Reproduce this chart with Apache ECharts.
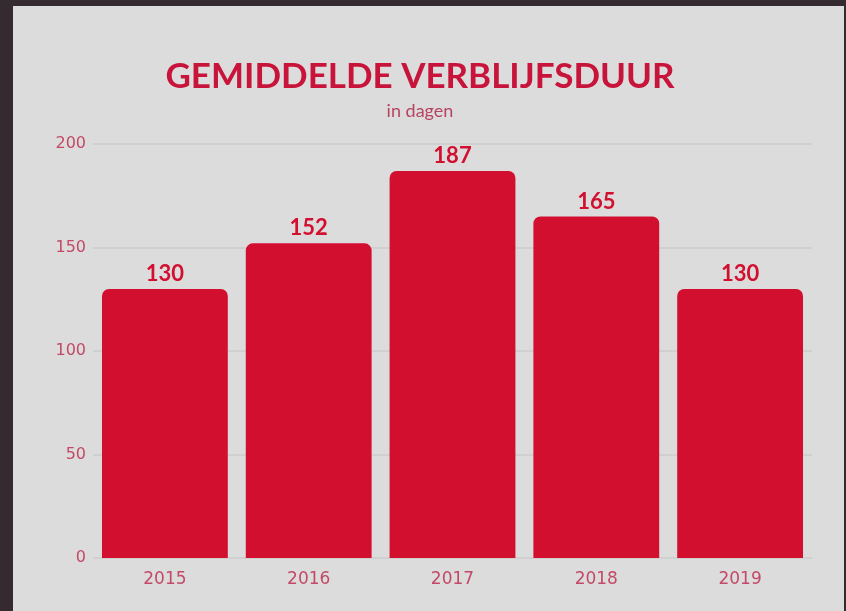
<!DOCTYPE html>
<html>
<head>
<meta charset="utf-8">
<script src="https://cdn.jsdelivr.net/npm/echarts@6/dist/echarts.min.js"></script>
<style>
html,body{margin:0;padding:0;background:#352a2f;width:846px;height:611px;overflow:hidden;}
#c{position:absolute;left:13px;top:6px;width:831px;height:605px;background:#dcdcdc;}
</style>
</head>
<body>
<div id="c"></div>
<script>
var categories = ['2015', '2016', '2017', '2018', '2019'];
var values = [130, 152, 187, 165, 130];
var yTicks = [0, 50, 100, 150, 200];
var titleText = 'GEMIDDELDE VERBLIJFSDUUR';
var subtitleText = 'in dagen';

var chart = echarts.init(document.getElementById('c'));
chart.setOption({
  backgroundColor: '#dcdcdc',
  animation: false,
  title: [{
    text: titleText,
    left: 402,
    textAlign: 'center',
    top: 48,
    textStyle: {fontFamily: 'Lato', fontWeight: 'bold', fontSize: 35, color: '#c8143a'}
  }, {
    text: subtitleText,
    left: 402,
    textAlign: 'center',
    top: 91,
    textStyle: {fontFamily: 'Lato', fontWeight: 'normal', fontSize: 18, color: '#b84462'}
  }],
  grid: {left: 80, right: 32, top: 138, bottom: 53},
  xAxis: {
    type: 'category',
    data: categories,
    axisLine: {show: false},
    axisTick: {show: false},
    axisLabel: {color: '#c24a68', fontFamily: 'DejaVu Sans', fontSize: 17, margin: 13}
  },
  yAxis: {
    type: 'value',
    min: yTicks[0],
    max: yTicks[yTicks.length - 1],
    interval: 50,
    axisLine: {show: false},
    axisTick: {show: false},
    axisLabel: {color: '#c24a68', fontFamily: 'DejaVu Sans', fontSize: 16, margin: 7},
    splitLine: {lineStyle: {color: '#d0d0d0', width: 2}}
  },
  series: [{
    type: 'bar',
    data: values,
    barCategoryGap: '12.5%',
    itemStyle: {color: '#d30f30', borderRadius: [7, 7, 0, 0]},
    label: {
      show: true,
      position: 'top',
      distance: 4,
      color: '#d30f30',
      fontFamily: 'Lato',
      fontWeight: 'bold',
      fontSize: 22
    }
  }]
});
</script>
</body>
</html>
